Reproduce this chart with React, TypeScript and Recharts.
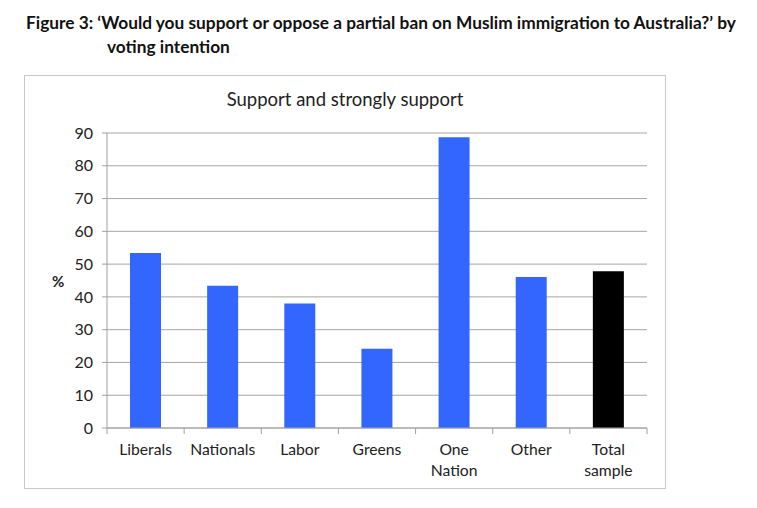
import { BarChart, Bar, XAxis, YAxis, CartesianGrid, Cell } from "recharts";

const categories = ["Liberals", "Nationals", "Labor", "Greens", "One Nation", "Other", "Total sample"];
const supportValues = [53.4, 43.4, 38.0, 24.2, 88.7, 46.1, 47.8];
const barColors = ["#3366ff", "#3366ff", "#3366ff", "#3366ff", "#3366ff", "#3366ff", "#000000"];
const yTicks = [0, 10, 20, 30, 40, 50, 60, 70, 80, 90];

const data = categories.map((name, i) => ({ name, value: supportValues[i] }));

const FONT = "Lato, 'Open Sans', sans-serif";
const CHART_W = 642;
const CHART_H = 414;
const MARGIN = { top: 57, right: 20, bottom: 0, left: 44 };
const Y_AXIS_W = 38;
const BAND = (CHART_W - MARGIN.left - MARGIN.right - Y_AXIS_W) / categories.length;
const TICK_SIZE = 6;
const TICK_MARGIN = 2;

const CategoryTick = (props: any) => {
  const { x, y, payload, index } = props;
  const axisY = y - TICK_SIZE - TICK_MARGIN;
  const lines = String(payload.value).split(" ");
  return (
    <g>
      <line x1={x - BAND / 2} x2={x - BAND / 2} y1={axisY} y2={axisY + 6} stroke="#a0a0a0" />
      {index === categories.length - 1 && (
        <line x1={x + BAND / 2} x2={x + BAND / 2} y1={axisY} y2={axisY + 6} stroke="#a0a0a0" />
      )}
      <text x={x} y={axisY + 27} textAnchor="middle" fill="#222" fontSize={15.7} fontFamily={FONT}>
        {lines.map((l, i) => (
          <tspan key={i} x={x} dy={i === 0 ? 0 : 21}>
            {l}
          </tspan>
        ))}
      </text>
    </g>
  );
};

export default function App() {
  return (
    <div style={{ position: "absolute", left: 0, top: 0, width: 757, height: 508, background: "#fff", fontFamily: FONT }}>
      <div style={{ position: "absolute", left: 26, top: 12, fontSize: 17.3, fontWeight: 700, color: "#111", whiteSpace: "nowrap" }}>
        Figure 3: ‘Would you support or oppose a partial ban on Muslim immigration to Australia?’ by
      </div>
      <div style={{ position: "absolute", left: 107, top: 36, fontSize: 17.3, fontWeight: 700, color: "#111", whiteSpace: "nowrap" }}>
        voting intention
      </div>
      <div
        style={{
          position: "absolute",
          left: 24,
          top: 75,
          width: CHART_W,
          height: CHART_H,
          border: "1px solid #c8c8c8",
          boxSizing: "border-box",
        }}
      >
        <div style={{ position: "absolute", left: 0, width: CHART_W - 2, top: 12, textAlign: "center", fontSize: 18.5, color: "#222" }}>
          Support and strongly support
        </div>
        <div style={{ position: "absolute", left: 27, top: 196, fontSize: 15, fontWeight: 700, color: "#222" }}>%</div>
        <BarChart width={CHART_W} height={CHART_H} data={data} margin={MARGIN}>
          <CartesianGrid vertical={false} stroke="#a6a6a6" />
          <YAxis
            width={Y_AXIS_W}
            domain={[0, 90]}
            ticks={yTicks}
            interval={0}
            axisLine={{ stroke: "#a0a0a0" }}
            tickLine={{ stroke: "#a0a0a0" }}
            tickSize={5}
            tickMargin={9}
            tick={{ fill: "#222", fontSize: 16, fontFamily: FONT }}
          />
          <XAxis
            dataKey="name"
            height={62}
            interval={0}
            axisLine={{ stroke: "#a0a0a0" }}
            tickLine={false}
            tickSize={TICK_SIZE}
            tickMargin={TICK_MARGIN}
            tick={<CategoryTick />}
          />
          <Bar dataKey="value" barSize={31} isAnimationActive={false}>
            {data.map((_, i) => (
              <Cell key={`cell-${i}`} fill={barColors[i]} />
            ))}
          </Bar>
        </BarChart>
      </div>
    </div>
  );
}
